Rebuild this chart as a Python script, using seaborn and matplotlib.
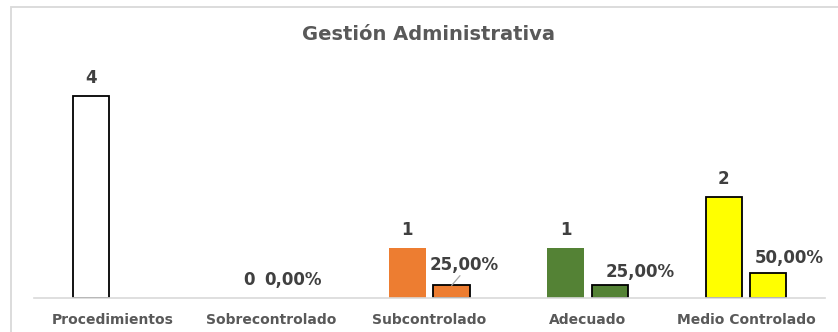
import matplotlib
matplotlib.use("Agg")
import matplotlib.pyplot as plt
from matplotlib.patches import Rectangle
import numpy as np
import pandas as pd
import seaborn as sns

# Data
categories = ["Procedimientos", "Sobrecontrolado", "Subcontrolado", "Adecuado", "Medio Controlado"]
counts = [4, 0, 1, 1, 2]
shares = [None, 0.00, 0.25, 0.25, 0.50]
series = ["Cantidad", "Porcentaje"]
title = "Gestión Administrativa"

# Styling
fill_colors = ["#FFFFFF", "#FFFFFF", "#ED7D31", "#548235", "#FFFF00"]
count_edges = [True, False, False, False, True]
label_color = "#404040"
tick_color = "#595959"
grid_gray = "#D9D9D9"

# label offsets in points (dx, dy) for the percentage labels
pct_offsets = [None, (0, 13), (9, 15), (22, 10), (15, 11)]

rows = []
for c, n, s in zip(categories, counts, shares):
    rows.append({"cat": c, "serie": series[0], "valor": n})
    rows.append({"cat": c, "serie": series[1], "valor": s})
df = pd.DataFrame(rows).dropna()

sns.set_style("white")
plt.rcParams["font.family"] = ["DejaVu Sans"]

fig = plt.figure(figsize=(8.38, 3.32), dpi=100)
ax = fig.add_axes([34 / 838, 34 / 332, 791 / 838, 252 / 332])

sns.barplot(data=df, x="cat", y="valor", hue="serie", order=categories,
            hue_order=series, width=0.56, gap=0.18, ax=ax, legend=False,
            errorbar=None)

# colour each bar by its category
for ci, cont in enumerate(ax.containers):
    for bar in cont:
        xc = bar.get_x() + bar.get_width() / 2
        idx = int(round(xc))
        bar.set_facecolor(fill_colors[idx])
        h = bar.get_height()
        if ci == 0:
            if count_edges[idx] and h > 0:
                bar.set_edgecolor("black"); bar.set_linewidth(1.3)
            else:
                bar.set_linewidth(0)
            ax.annotate(f"{counts[idx]}", (xc, h), xytext=(0, 13),
                        textcoords="offset points", ha="center", va="center",
                        fontsize=12, fontweight="bold", color=label_color)
        else:
            if h > 0:
                bar.set_edgecolor("black"); bar.set_linewidth(1.3)
            else:
                bar.set_linewidth(0)
            dx, dy = pct_offsets[idx]
            txt = f"{shares[idx] * 100:.2f}%".replace(".", ",")
            ax.annotate(txt, (xc, h), xytext=(dx, dy),
                        textcoords="offset points", ha="center", va="center",
                        fontsize=12, fontweight="bold", color=label_color)

# leader line for the Subcontrolado percentage label
sub_bar = [b for b in ax.containers[1] if int(round(b.get_x() + b.get_width() / 2)) == 2][0]
xs = sub_bar.get_x() + sub_bar.get_width() / 2
ax.annotate("", (xs, sub_bar.get_height()), xytext=(6, 7), textcoords="offset points",
            arrowprops=dict(arrowstyle="-", color="#A6A6A6", lw=0.9, shrinkA=0, shrinkB=0))

ax.set_xlim(-0.5, len(categories) - 0.5)
ax.set_ylim(0, 5)
ax.set_xlabel("")
ax.set_ylabel("")
ax.set_yticks([])
ax.set_xticks(np.arange(len(categories)))
ax.set_xticklabels(categories, fontsize=10, fontweight="bold", color=tick_color)
ax.set_xticks(np.arange(len(categories) + 1) - 0.5, minor=True)
ax.tick_params(axis="x", which="major", length=0, pad=11)
ax.tick_params(axis="x", which="minor", length=4, color=grid_gray, width=1, direction="out")
for side in ["top", "right", "left"]:
    ax.spines[side].set_visible(False)
ax.spines["bottom"].set_color(grid_gray)
ax.spines["bottom"].set_linewidth(1.2)
ax.patch.set_alpha(0)

# chart frame and title
fig.add_artist(Rectangle((11 / 838, -0.1), 1.2, (332 - 7) / 332 + 0.1,
                         transform=fig.transFigure, fill=False, ec=grid_gray, lw=1.3))
fig.text(428 / 838, 1 - 34 / 332, title, ha="center", va="center",
         fontsize=14, fontweight="bold", color=tick_color)

fig.savefig("out.png", dpi=100)
